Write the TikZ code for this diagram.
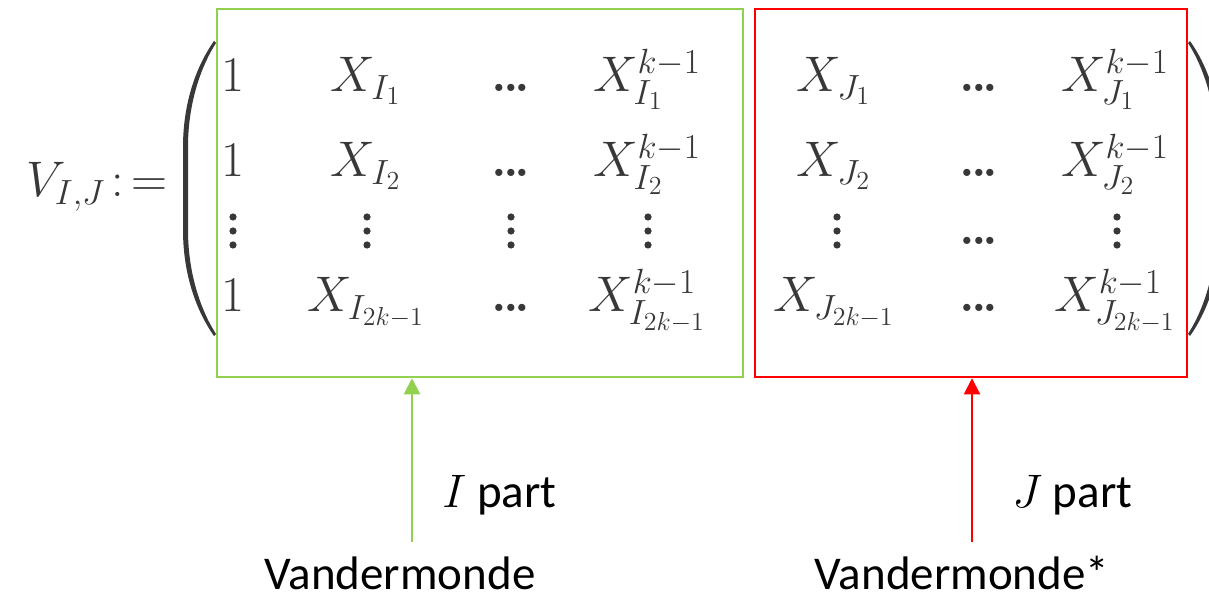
\RequirePackage{fix-cm}
\documentclass[tikz,border=0pt]{standalone}
\usepackage{fontspec}
\newfontfamily\labelfont{Carlito}
\usetikzlibrary{arrows.meta,fit}

\definecolor{ink}{HTML}{383838}
\definecolor{ipart}{HTML}{92D050}
\definecolor{jpart}{HTML}{FF0000}

\DeclareMathSizes{25}{25}{17.5}{13}
\DeclareMathSizes{23.5}{23.5}{16.5}{12}

% tight baseline ellipsis that scales with the font
\newcommand\rowdots{\hbox{\bfseries.\kern-0.08em.\kern-0.08em.}}

\tikzset{
  entry/.style={anchor=base, inner sep=0pt, text=ink, font=\fontsize{25}{30}\selectfont},
  partbox/.style={draw=#1, line width=1.25pt, inner sep=0pt},
  pointer/.style={draw=#1, line width=1pt, -{Triangle[length=8pt,width=8pt]}},
  caption/.style={anchor=base, inner sep=0pt, text=black,
                  font=\labelfont\fontsize{23.5}{28}\selectfont},
  paren/.style={fill=ink, draw=none},
  vdot/.style={fill=ink, draw=none}
}

\begin{document}
\begin{tikzpicture}[x=0.5pt, y=-0.5pt]
  \useasboundingbox (0,0) rectangle (1209,598);
  \clip (0,0) rectangle (1209,598);

  % left-hand side
  \node[entry, anchor=base west] (lhs) at (26,197) {$V_{I,J}\mkern2mu{:}\mkern3mu{=}$};

  % large parentheses
  \fill[paren] (214,41) .. controls (195,68) and (183,105) .. (183,147)
      -- (183,230) .. controls (183,272) and (195,309) .. (214,336)
      -- (216,334) .. controls (200,309) and (188,272) .. (188,230)
      -- (188,147) .. controls (188,105) and (200,68) .. (216,43) -- cycle;
  \fill[paren] (1190,41) .. controls (1209,68) and (1221,105) .. (1221,147)
      -- (1221,230) .. controls (1221,272) and (1209,309) .. (1190,336)
      -- (1188,334) .. controls (1204,309) and (1216,272) .. (1216,230)
      -- (1216,147) .. controls (1216,105) and (1204,68) .. (1188,43) -- cycle;

  % row 1
  \node[entry] (m11) at (233,92)  {$1$};
  \node[entry] (m12) at (366,92)  {$X_{I_1}$};
  \node[entry] (m13) at (511,92)  {$\rowdots$};
  \node[entry] (m14) at (647,92)  {$X_{I_1}^{k-1}$};
  \node[entry] (m15) at (834,92)  {$X_{J_1}$};
  \node[entry] (m16) at (979,92)  {$\rowdots$};
  \node[entry] (m17) at (1115,92) {$X_{J_1}^{k-1}$};
  % row 2
  \node[entry] (m21) at (233,177)  {$1$};
  \node[entry] (m22) at (366,177)  {$X_{I_2}$};
  \node[entry] (m23) at (511,177)  {$\rowdots$};
  \node[entry] (m24) at (647,177)  {$X_{I_2}^{k-1}$};
  \node[entry] (m25) at (834,177)  {$X_{J_2}$};
  \node[entry] (m26) at (979,177)  {$\rowdots$};
  \node[entry] (m27) at (1115,177) {$X_{J_2}^{k-1}$};
  % row 3: vertical dots, except the horizontal ellipsis in the sixth column
  \foreach \cx in {233,367,511,648,837,1117}
    \foreach \cy in {217,231,245}
      \fill[vdot] (\cx,\cy) circle[radius=1.8pt];
  \node[entry] (m36) at (979,245)  {$\rowdots$};
  % row 4
  \node[entry] (m41) at (233,312)  {$1$};
  \node[entry] (m42) at (366,312)  {$X_{I_{2k-1}}$};
  \node[entry] (m43) at (511,312)  {$\rowdots$};
  \node[entry] (m44) at (647,312)  {$X_{I_{2k-1}}^{k-1}$};
  \node[entry] (m45) at (834,312)  {$X_{J_{2k-1}}$};
  \node[entry] (m46) at (979,312)  {$\rowdots$};
  \node[entry] (m47) at (1115,312) {$X_{J_{2k-1}}^{k-1}$};

  % the two blocks of columns
  \node[partbox=ipart, fit={(217,9) (743,377)}] (ibox) {};
  \node[partbox=jpart, fit={(755,9) (1187,377)}] (jbox) {};

  % annotations
  \node[caption, anchor=base west] (ilabel) at (442,507) {$I$ part};
  \node[caption, anchor=base west] (jlabel) at (1012,507) {$J$ part};
  \node[caption] (ivand) at (400,589) {Vandermonde};
  \node[caption] (jvand) at (962,589) {Vandermonde*};

  \coordinate (istart) at (412,542);
  \coordinate (jstart) at (972,542);
  \draw[pointer=ipart] (istart) -- (istart |- ibox.south);
  \draw[pointer=jpart] (jstart) -- (jstart |- jbox.south);
\end{tikzpicture}
\end{document}
